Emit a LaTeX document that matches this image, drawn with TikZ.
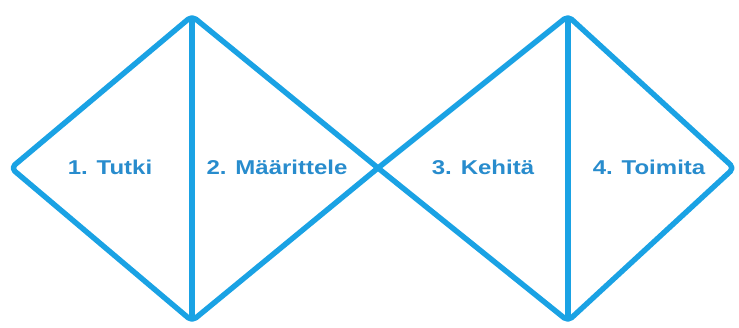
\documentclass[tikz,border=0pt]{standalone}
\usepackage{fontspec}
\setmainfont{Liberation Sans}
\usepackage{xcolor}
\definecolor{ddline}{RGB}{26,162,228}
\definecolor{ddtext}{RGB}{40,140,205}
\tikzset{
  phase/.style={text=ddtext, font=\fontsize{20}{23}\selectfont\bfseries, inner sep=0pt},
  outline/.style={draw=ddline, line width=5.4pt, rounded corners=5pt, line join=round}
}
\begin{document}
\begin{tikzpicture}[x=1pt,y=-1pt]
\useasboundingbox (0,0) rectangle (739,327);
\coordinate (tipL) at (11,168);
\coordinate (topA) at (192,16);
\coordinate (botA) at (192,321);
\coordinate (mid) at (378,168);
\coordinate (topB) at (568,16);
\coordinate (botB) at (568,321);
\coordinate (tipR) at (734,168);
\draw[outline] (mid) -- (topA) -- (tipL) -- (botA) -- (mid);
\draw[outline] (mid) -- (topB) -- (tipR) -- (botB) -- (mid);
\draw[ddline, line width=5.4pt] (topA) -- (botA);
\draw[ddline, line width=5.4pt] (topB) -- (botB);
\node[phase] (tutki) at (110,167) {\scalebox{1.2}[1]{1. Tutki}};
\node[phase] (maar) at (277,167) {\scalebox{1.2}[1]{2. Määrittele}};
\node[phase] (kehita) at (483,167) {\scalebox{1.2}[1]{3. Kehitä}};
\node[phase] (toimita) at (649,167) {\scalebox{1.2}[1]{4. Toimita}};
\end{tikzpicture}
\end{document}
